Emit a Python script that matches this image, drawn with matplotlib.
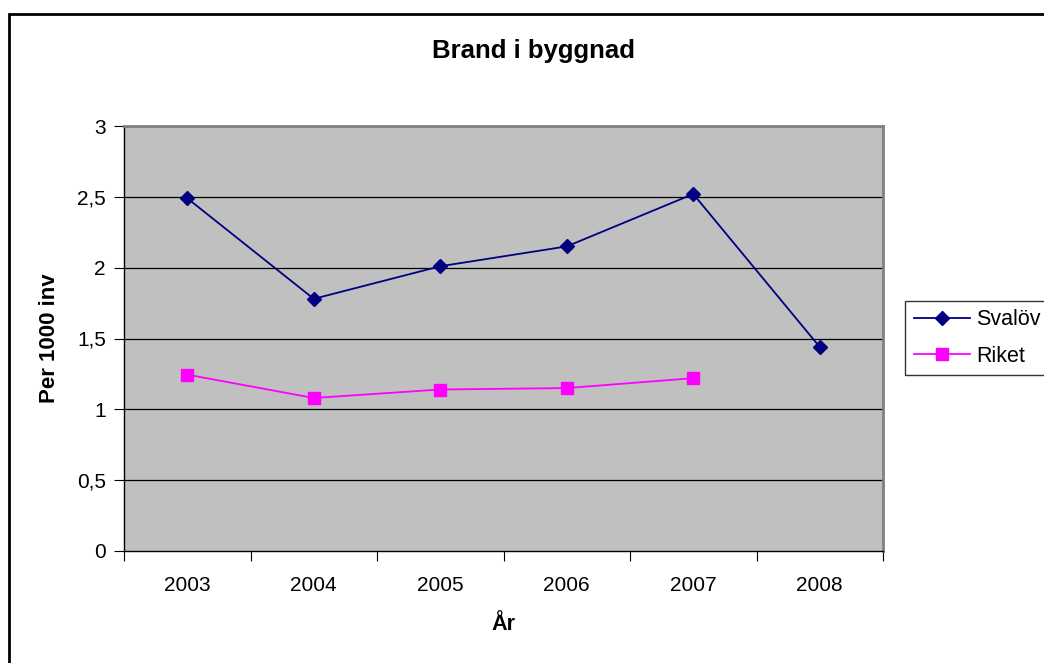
import matplotlib.pyplot as plt
from matplotlib.patches import Rectangle
import numpy as np

plt.rcParams['font.family'] = ['Liberation Sans', 'DejaVu Sans']

years = ['2003', '2004', '2005', '2006', '2007', '2008']
svalov = [2.49, 1.78, 2.01, 2.15, 2.52, 1.44]
riket = [1.245, 1.08, 1.14, 1.15, 1.22]
y_ticks = [0, 0.5, 1, 1.5, 2, 2.5, 3]
y_labels = ['0', '0,5', '1', '1,5', '2', '2,5', '3']

fig = plt.figure(figsize=(10.44, 6.63), dpi=100)
# outer chart frame
fig.patches.append(Rectangle((9 / 1044, -0.05), 1.2, 1 - 14 / 663 + 0.05,
                             transform=fig.transFigure, fill=False,
                             edgecolor='black', linewidth=2, zorder=0))

ax = fig.add_axes([124 / 1044, 112 / 663, 759 / 1044, 425 / 663])
ax.set_facecolor('#c0c0c0')
x = np.arange(len(years))

for y in y_ticks[1:]:
    ax.axhline(y, color='black', linewidth=0.9, zorder=1)

ax.plot(x, svalov, color='#000080', marker='D', markersize=7, linewidth=1.3,
        label='Svalöv', zorder=3)
ax.plot(x[:len(riket)], riket, color='#ff00ff', marker='s', markersize=8,
        linewidth=1.3, label='Riket', zorder=3)

ax.set_xlim(-0.5, len(years) - 0.5)
ax.set_ylim(0, 3)
ax.set_yticks(y_ticks)
ax.set_yticklabels(y_labels, fontsize=15)
ax.set_xticks(np.arange(-0.5, len(years)))
ax.set_xticklabels([])
ax.set_xticks(x, minor=True)
ax.set_xticklabels(years, minor=True, fontsize=15)
ax.tick_params(axis='x', which='minor', length=0, pad=18)
ax.tick_params(axis='x', which='major', length=7, color='black')
ax.tick_params(axis='y', length=7, pad=6)

for side in ['top', 'right']:
    ax.spines[side].set_color('#808080')
    ax.spines[side].set_linewidth(2)
for side in ['left', 'bottom']:
    ax.spines[side].set_color('black')
    ax.spines[side].set_linewidth(1)

fig.text(534 / 1044, 1 - 51 / 663, 'Brand i byggnad', fontsize=18.5,
         fontweight='bold', ha='center', va='center')
ax.set_xlabel('År', fontsize=15.5, fontweight='bold', labelpad=14)
ax.set_ylabel('Per 1000 inv', fontsize=16, fontweight='bold', labelpad=12)

leg = ax.legend(loc='center left', bbox_to_anchor=(905 / 1044, 1 - 338 / 663),
                bbox_transform=fig.transFigure, fontsize=15.5, frameon=True,
                fancybox=False, edgecolor='black', handlelength=2.6,
                borderpad=0.4, labelspacing=0.7, handletextpad=0.3,
                borderaxespad=0)
leg.get_frame().set_linewidth(1)

fig.savefig('out.png', dpi=100)
